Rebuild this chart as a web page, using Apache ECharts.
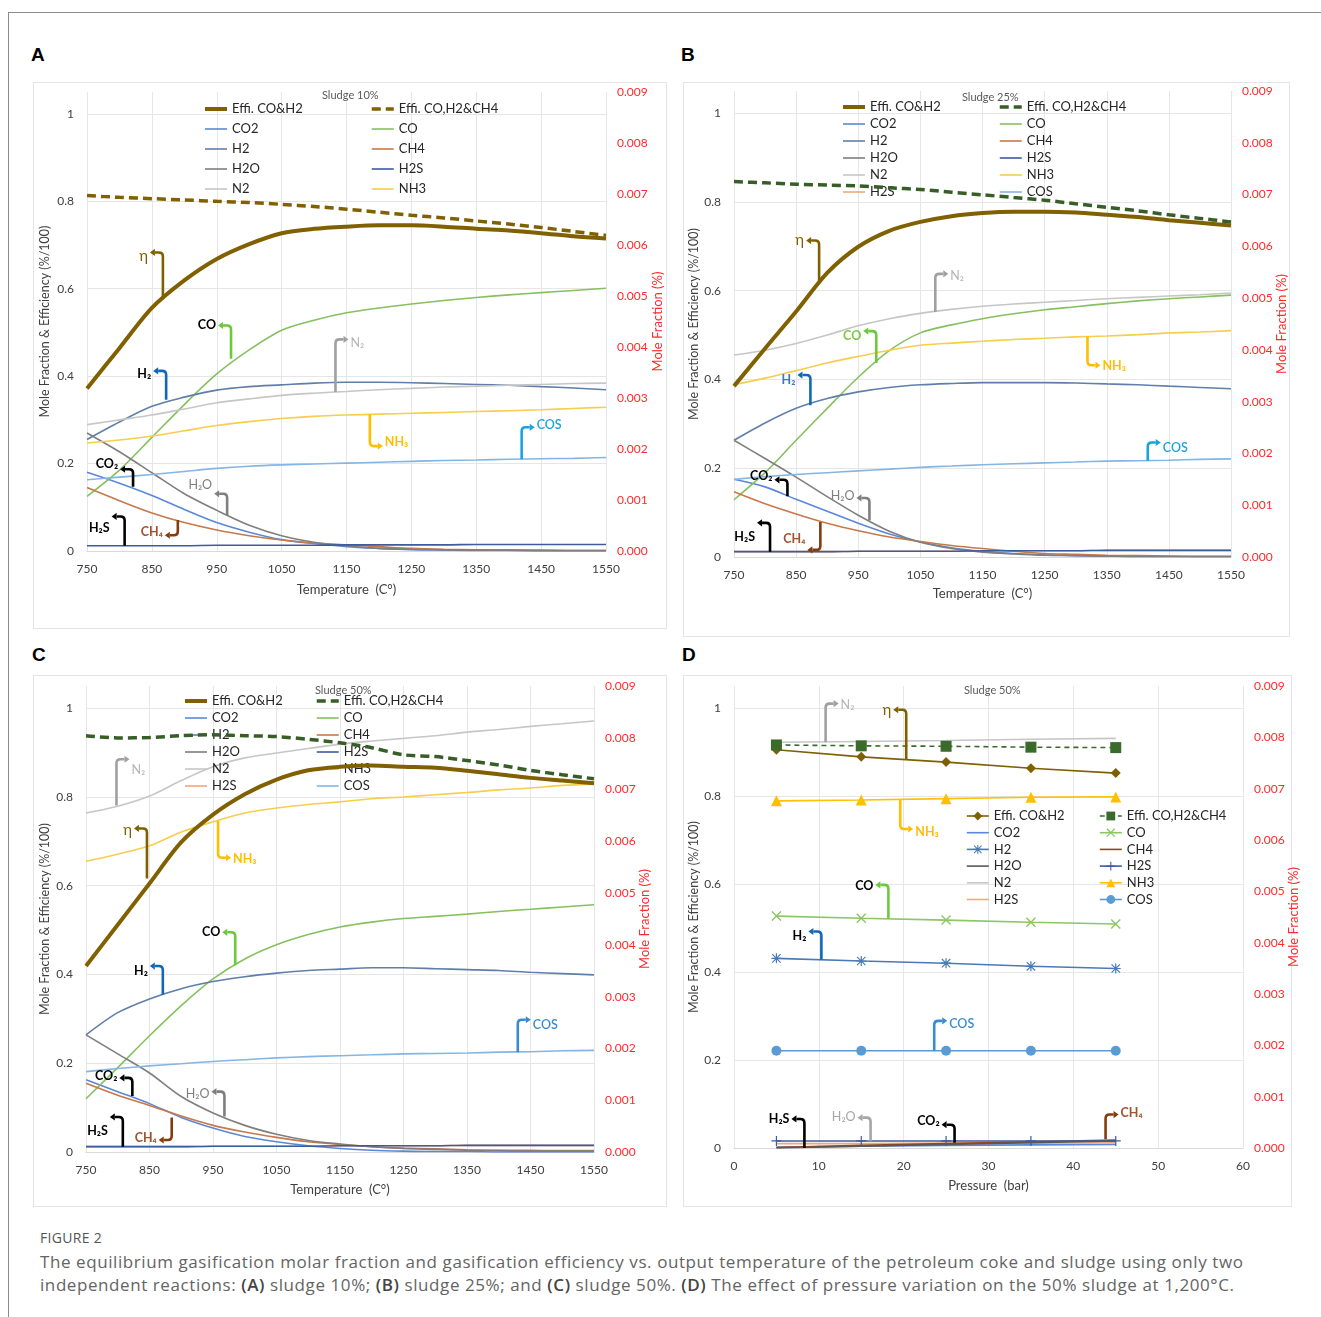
<!DOCTYPE html>
<html><head><meta charset="utf-8">
<script src="https://cdn.jsdelivr.net/npm/echarts/dist/echarts.min.js"></script>
<style>
body{margin:0;background:#fff;width:1321px;height:1317px;position:relative;overflow:hidden;font-family:Lato,'Noto Sans',sans-serif;}
.frame{position:absolute;left:8px;top:12px;width:1330px;height:1320px;border-top:1.5px solid #8c8c8c;border-left:1.5px solid #8c8c8c;}
.box{position:absolute;border:1px solid #e4e4e4;}
.chart{position:absolute;}
.lbl{position:absolute;font:bold 19px 'Liberation Sans',Arial,sans-serif;color:#000;line-height:20px;}
.fig{position:absolute;left:40px;top:1229px;font:14px 'Open Sans',sans-serif;letter-spacing:0.3px;color:#555;line-height:18px;}
.cap{position:absolute;left:40px;top:1250px;font:17px/23px 'Open Sans',sans-serif;letter-spacing:0.58px;color:#646464;white-space:nowrap;}
.cap b{color:#444;font-weight:600;}
</style>
</head><body>
<div class="frame"></div>
<div class="box" style="left:33px;top:82px;width:632px;height:545px"></div>
<div class="box" style="left:683px;top:82px;width:605px;height:553px"></div>
<div class="box" style="left:33px;top:675px;width:632px;height:530px"></div>
<div class="box" style="left:683px;top:675px;width:607px;height:530px"></div>
<div class="lbl" style="left:31px;top:45px">A</div>
<div class="lbl" style="left:681px;top:45px">B</div>
<div class="lbl" style="left:32px;top:645px">C</div>
<div class="lbl" style="left:682px;top:645px">D</div>
<div id="cA" class="chart" style="left:33px;top:82px;width:650px;height:560px"></div>
<div id="cB" class="chart" style="left:683px;top:82px;width:630px;height:560px"></div>
<div id="cC" class="chart" style="left:33px;top:675px;width:650px;height:540px"></div>
<div id="cD" class="chart" style="left:683px;top:675px;width:630px;height:540px"></div>
<div class="fig">FIGURE 2</div>
<div class="cap">The equilibrium gasification molar fraction and gasification efficiency vs. output temperature of the petroleum coke and sludge using only two<br>independent reactions: <b>(A)</b> sludge 10%; <b>(B)</b> sludge 25%; and <b>(C)</b> sludge 50%. <b>(D)</b> The effect of pressure variation on the 50% sludge at 1,200°C.</div>
<script>
// ---------------- DATA ----------------
const temps = [750,800,850,900,950,1000,1050,1100,1150,1200,1250,1300,1350,1400,1450,1500,1550];
const pressures = [5,15,25,35,45];

// Panel A: sludge 10%
const effiA  = [0.372,0.464,0.556,0.619,0.668,0.702,0.727,0.737,0.742,0.745,0.745,0.742,0.737,0.733,0.727,0.720,0.715];
const effi2A = [0.813,0.809,0.806,0.803,0.800,0.797,0.793,0.788,0.782,0.775,0.768,0.762,0.755,0.748,0.740,0.731,0.722];
const co2A   = [0.180,0.155,0.127,0.095,0.065,0.043,0.026,0.017,0.010,0.006,0.003,0.002,0.001,0.001,0.000,0.000,0.000];
const coA    = [0.125,0.185,0.260,0.335,0.405,0.460,0.505,0.528,0.545,0.556,0.565,0.573,0.580,0.586,0.591,0.596,0.601];
const h2A    = [0.255,0.295,0.331,0.352,0.368,0.376,0.380,0.384,0.386,0.386,0.385,0.383,0.381,0.379,0.376,0.373,0.369];
const ch4A   = [0.145,0.115,0.087,0.065,0.048,0.035,0.025,0.018,0.014,0.010,0.006,0.004,0.003,0.002,0.002,0.001,0.001];
const h2oA   = [0.270,0.227,0.179,0.131,0.093,0.059,0.035,0.020,0.012,0.006,0.004,0.003,0.002,0.002,0.001,0.001,0.001];
const h2sA   = [0.012,0.012,0.012,0.012,0.013,0.013,0.013,0.013,0.014,0.014,0.014,0.014,0.015,0.015,0.015,0.015,0.015];
const n2A    = [0.289,0.300,0.311,0.325,0.339,0.348,0.356,0.361,0.365,0.369,0.372,0.375,0.377,0.379,0.381,0.383,0.384];
const nh3A   = [0.247,0.254,0.263,0.275,0.287,0.296,0.303,0.308,0.311,0.313,0.315,0.317,0.319,0.321,0.323,0.326,0.329];
const cosA   = [0.163,0.169,0.175,0.182,0.189,0.194,0.197,0.199,0.201,0.203,0.205,0.207,0.208,0.210,0.211,0.212,0.214];

// Panel B: sludge 25%
const effiB  = [0.385,0.470,0.553,0.640,0.699,0.735,0.755,0.768,0.775,0.778,0.778,0.776,0.771,0.766,0.759,0.753,0.747];
const effi2B = [0.846,0.843,0.840,0.838,0.836,0.832,0.828,0.822,0.816,0.810,0.804,0.796,0.788,0.780,0.771,0.763,0.755];
const co2B   = [0.175,0.158,0.130,0.103,0.076,0.052,0.034,0.021,0.013,0.008,0.005,0.003,0.002,0.001,0.001,0.001,0.001];
const coB    = [0.129,0.190,0.263,0.335,0.405,0.465,0.505,0.523,0.537,0.548,0.557,0.564,0.571,0.577,0.582,0.586,0.590];
const h2B    = [0.263,0.302,0.335,0.357,0.372,0.382,0.388,0.391,0.393,0.393,0.393,0.392,0.390,0.388,0.385,0.382,0.379];
const ch4B   = [0.147,0.120,0.097,0.076,0.059,0.045,0.035,0.026,0.019,0.013,0.008,0.006,0.004,0.003,0.002,0.001,0.001];
const h2oB   = [0.263,0.222,0.180,0.136,0.094,0.058,0.033,0.019,0.011,0.007,0.004,0.003,0.002,0.001,0.001,0.001,0.001];
const h2sB   = [0.012,0.012,0.012,0.012,0.013,0.013,0.013,0.013,0.014,0.014,0.014,0.014,0.015,0.015,0.015,0.015,0.015];
const n2B    = [0.455,0.466,0.481,0.500,0.521,0.537,0.549,0.558,0.565,0.570,0.574,0.578,0.582,0.585,0.588,0.591,0.595];
const h2s2B  = [0.012,0.012,0.012,0.012,0.013,0.013,0.013,0.013,0.014,0.014,0.014,0.014,0.015,0.015,0.015,0.015,0.015];
const nh3B   = [0.388,0.403,0.420,0.437,0.452,0.466,0.477,0.482,0.486,0.490,0.493,0.496,0.498,0.501,0.505,0.507,0.510];
const cosB   = [0.175,0.181,0.186,0.190,0.194,0.198,0.202,0.205,0.208,0.210,0.212,0.214,0.216,0.217,0.218,0.220,0.221];

// Panel C: sludge 50%
const effiC  = [0.419,0.512,0.605,0.698,0.760,0.806,0.839,0.860,0.868,0.871,0.868,0.866,0.859,0.851,0.843,0.837,0.831];
const effi2C = [0.938,0.933,0.934,0.938,0.940,0.938,0.936,0.930,0.922,0.911,0.895,0.891,0.882,0.872,0.860,0.850,0.841];
const co2C   = [0.163,0.136,0.109,0.078,0.054,0.035,0.023,0.014,0.008,0.004,0.002,0.001,0.001,0.000,0.000,0.000,0.000];
const coC    = [0.120,0.190,0.262,0.330,0.390,0.435,0.467,0.490,0.507,0.518,0.526,0.531,0.536,0.542,0.547,0.552,0.557];
const h2C    = [0.264,0.314,0.345,0.368,0.384,0.395,0.403,0.409,0.412,0.415,0.415,0.413,0.411,0.409,0.405,0.402,0.399];
const ch4C   = [0.155,0.128,0.105,0.081,0.060,0.045,0.033,0.023,0.017,0.012,0.009,0.007,0.005,0.004,0.004,0.003,0.003];
const h2oC   = [0.264,0.221,0.178,0.125,0.088,0.060,0.040,0.026,0.018,0.012,0.008,0.006,0.004,0.003,0.002,0.002,0.002];
const h2sC   = [0.012,0.012,0.012,0.012,0.013,0.013,0.013,0.013,0.014,0.014,0.014,0.014,0.015,0.015,0.015,0.015,0.015];
const n2C    = [0.764,0.779,0.802,0.837,0.868,0.888,0.899,0.909,0.919,0.926,0.932,0.938,0.946,0.952,0.959,0.965,0.971];
const h2s2C  = [0.012,0.012,0.012,0.012,0.013,0.013,0.013,0.013,0.014,0.014,0.014,0.014,0.015,0.015,0.015,0.015,0.015];
const nh3C   = [0.655,0.671,0.690,0.721,0.744,0.764,0.775,0.783,0.789,0.796,0.800,0.805,0.810,0.816,0.820,0.826,0.829];
const cosC   = [0.181,0.188,0.194,0.199,0.204,0.208,0.212,0.215,0.217,0.219,0.221,0.222,0.223,0.225,0.226,0.228,0.229];

// Panel D: sludge 50%, pressure
const effiD  = [0.905,0.889,0.877,0.863,0.852];
const effi2D = [0.916,0.914,0.913,0.911,0.910];
const co2D   = [0.002,0.004,0.006,0.007,0.008];
const coD    = [0.527,0.522,0.518,0.513,0.509];
const h2D    = [0.431,0.425,0.420,0.413,0.408];
const ch4D   = [0.001,0.006,0.010,0.014,0.018];
const h2oD   = [0.000,0.004,0.008,0.012,0.016];
const h2sD   = [0.016,0.016,0.016,0.016,0.016];
const n2D    = [0.922,0.924,0.926,0.929,0.931];
const h2s2D  = [0.010,0.010,0.011,0.011,0.012];
const nh3D   = [0.789,0.791,0.794,0.797,0.798];
const cosD   = [0.221,0.221,0.221,0.221,0.221];

// Annotation call-outs: [x, y on curve, y of hook, direction (-1 left / 1 right), label]
const annotA = [
  [867,0.576,0.683,-1,'η'],[972,0.440,0.516,-1,'CO'],[872,0.346,0.412,-1,'H₂'],
  [1133,0.364,0.484,1,'N₂'],[1186,0.313,0.240,1,'NH₃'],[1420,0.210,0.283,1,'COS'],
  [821,0.147,0.187,-1,'CO₂'],[966,0.081,0.131,-1,'H₂O'],[808,0.012,0.079,-1,'H₂S'],
  [890,0.071,0.036,-1,'CH₄']
];
const annotB = [
  [887,0.622,0.713,-1,'η'],[1074,0.552,0.638,1,'N₂'],[979,0.437,0.509,-1,'CO'],
  [873,0.342,0.410,-1,'H₂'],[1319,0.497,0.432,1,'NH₃'],[1416,0.217,0.258,1,'COS'],
  [836,0.137,0.174,-1,'CO₂'],[968,0.082,0.133,-1,'H₂O'],[808,0.012,0.077,-1,'H₂S'],
  [889,0.079,0.016,-1,'CH₄']
];
const annotC = [
  [798,0.781,0.885,1,'N₂'],[846,0.616,0.729,-1,'η'],[958,0.746,0.663,1,'NH₃'],
  [985,0.421,0.495,-1,'CO'],[871,0.355,0.419,-1,'H₂'],[1430,0.225,0.298,1,'COS'],
  [823,0.126,0.167,-1,'CO₂'],[968,0.080,0.136,-1,'H₂O'],[808,0.012,0.079,-1,'H₂S'],
  [885,0.078,0.027,-1,'CH₄']
];
const annotD = [
  [10.8,0.922,1.010,1,'N₂'],[20.3,0.884,0.996,-1,'η'],[19.6,0.792,0.725,1,'NH₃'],
  [18.2,0.521,0.598,-1,'CO'],[10.3,0.428,0.492,-1,'H₂'],[23.6,0.221,0.289,1,'COS'],
  [8.3,0.000,0.066,-1,'H₂S'],[16.1,0.016,0.069,-1,'H₂O'],[26.0,0.012,0.053,-1,'CO₂'],
  [43.8,0.020,0.076,1,'CH₄']
];

// ---------------- STYLES ----------------
const FONT = 'Lato, "Noto Sans", "DejaVu Sans", sans-serif';
const TXT = '#404040';
const RED = '#ff2b2b';
const symX = 'path://M1,0L5,4L9,0L10,1L6,5L10,9L9,10L5,6L1,10L0,9L4,5L0,1Z';
const symAst = 'path://M4.4,0h1.2v10h-1.2z M0,4.4h10v1.2h-10z M1.2,0.4L9.6,8.8L8.8,9.6L0.4,1.2z M8.8,0.4L9.6,1.2L1.2,9.6L0.4,8.8z';
const symPlus = 'path://M4.4,0h1.2v10h-1.2z M0,4.4h10v1.2h-10z';

const baseAnnotStyle = {
  'η':   {stem:'#7f6000', text:'#7f6000', w:'normal', fs:15},
  'CO':  {stem:'#6cc83c', text:'#000', w:'bold'},
  'H₂':  {stem:'#1168b8', text:'#000', w:'bold'},
  'N₂':  {stem:'#a0a0a0', text:'#b4b4b4', w:'normal'},
  'NH₃': {stem:'#ffbf00', text:'#ffbf00', w:'bold'},
  'COS': {stem:'#1aa3e0', text:'#1aa3e0', w:'600'},
  'CO₂': {stem:'#000', text:'#000', w:'bold'},
  'H₂O': {stem:'#7f7f7f', text:'#7f7f7f', w:'normal'},
  'H₂S': {stem:'#000', text:'#000', w:'bold'},
  'CH₄': {stem:'#843c0c', text:'#a0522d', w:'bold'}
};
const overB = {'CO':{text:'#7ac943'}, 'H₂':{text:'#3a78c8'}};
const overC = {'COS':{stem:'#3a8ad0', text:'#3a8ad0'}};
const overD = {'COS':{stem:'#3a8ad0', text:'#3a8ad0'}, 'H₂O':{stem:'#a6a6a6', text:'#a6a6a6'}};
const nudgeA = {'η':4,'H₂':3,'N₂':4,'NH₃':-4,'COS':-2,'CO₂':-5,'H₂O':-9,'H₂S':12,'CH₄':-3};
const nudgeB = {'N₂':2,'CO':5,'H₂':5,'NH₃':1,'COS':5,'CO₂':-4,'H₂O':-2,'H₂S':14,'CH₄':-11};
const nudgeC = {'N₂':11,'η':2,'NH₃':1,'H₂':5,'COS':5,'CO₂':-2,'H₂O':2,'H₂S':14,'CH₄':-2};
const nudgeD = {'N₂':1,'NH₃':3,'CO':1,'H₂':4,'COS':3,'H₂O':-1,'CO₂':-4,'CH₄':-2};

function lineSeries(name, xs, ys, st, xOff) {
  return {
    type:'line', name: name, smooth: st.smooth === false ? false : 0.3,
    data: xs.map((x,i) => [x - xOff, ys[i]]),
    showSymbol: !!st.symbol, symbol: st.symbol || 'none', symbolSize: st.size || 8,
    lineStyle: {color: st.color, width: st.width || 1.6, type: st.type || 'solid'},
    itemStyle: {color: st.mcolor || st.color},
    z: st.z || 2, silent: true, animation: false
  };
}

function annotSeries(list, xOff, over, nudge) {
  return {
    type:'custom', name:'annot', coordinateSystem:'cartesian2d', silent:true, z:20, clip:false,
    animation:false,
    encode:{x:0, y:[1,2]},
    data: list.map(a => [a[0] - xOff, a[1], a[2]]),
    renderItem: function(params, api) {
      const a = list[params.dataIndex];
      const key = a[4];
      const st = Object.assign({}, baseAnnotStyle[key], (over||{})[key] || {});
      const p1 = api.coord([api.value(0), api.value(1)]);
      const p2 = api.coord([api.value(0), api.value(2)]);
      const d = a[3];
      const sg = p2[1] < p1[1] ? 1 : -1;
      const r = 4, L = 8, ah = 5, aw = 3.6;
      const x = p1[0], y = p2[1];
      const hx = x + d * L;
      const pd = 'M' + x + ' ' + p1[1] + ' L' + x + ' ' + (y + sg * r) + ' Q' + x + ' ' + y + ' ' + (x + d * r) + ' ' + y + ' L' + hx + ' ' + y;
      return {type:'group', children:[
        {type:'path', shape:{pathData: pd}, style:{stroke: st.stem, fill: null, lineWidth: 2.6}},
        {type:'polygon', shape:{points:[[hx + d*ah, y],[hx, y - aw],[hx, y + aw]]}, style:{fill: st.stem}},
        {type:'text', style:{text: key, x: hx + d*(ah + 2), y: y + ((nudge||{})[key] || 0),
          align: d < 0 ? 'right' : 'left', verticalAlign:'middle', fill: st.text,
          fontSize: st.fs || 12.5, fontWeight: st.w, fontFamily: FONT}}
      ]};
    }
  };
}

function makeOption(cfg) {
  const isT = cfg.kind === 'T';
  const xOff = isT ? temps[0] : 0;
  const xs = isT ? temps : pressures;
  const series = cfg.series.map(s => lineSeries(s.name, xs, s.data, s.style, xOff));
  series.push(annotSeries(cfg.annot, xOff, cfg.over, cfg.nudge));
  const styleOf = {};
  cfg.series.forEach(s => { styleOf[s.name] = s.style; });
  const legItems = names => names.map(n => {
    const s = styleOf[n];
    const item = {name: n, lineStyle: {width: s.width || 1.6}};
    if (!s.symbol) item.itemStyle = {color: 'rgba(0,0,0,0)', borderWidth: 0, opacity: 0};
    return item;
  });
  const legendBase = {
    orient:'vertical', itemWidth:22, itemHeight: cfg.legItemH || 14, itemGap: cfg.legGap,
    selectedMode:false, textStyle:{fontSize:13, color:'#262626', fontFamily:FONT, lineHeight:14}
  };
  return {
    animation:false,
    textStyle:{fontFamily:FONT},
    title:{text: cfg.title, left: cfg.titleLeft, top: cfg.titleTop,
      textStyle:{fontSize:11, color:'#595959', fontWeight:'normal', fontFamily:FONT}},
    legend:[
      Object.assign({}, legendBase, {data: legItems(cfg.leg1), left: cfg.leg1Left, top: cfg.legTop}),
      Object.assign({}, legendBase, {data: legItems(cfg.leg2), left: cfg.leg2Left, top: cfg.legTop})
    ],
    grid:{left: cfg.grid[0], top: cfg.grid[1], width: cfg.grid[2], height: cfg.grid[3],
      containLabel:false, outerBoundsMode:'none'},
    xAxis:{type:'value', min:0, max: isT ? (temps[temps.length-1] - xOff) : 60, interval: isT ? 100 : 10,
      name: isT ? 'Temperature  (C°)' : 'Pressure  (bar)', nameLocation:'middle', nameGap: cfg.xNameGap,
      nameMoveOverlap:false,
      nameTextStyle:{fontSize:13, color:TXT},
      axisLine:{show:true, lineStyle:{color:'#d9d9d9'}}, axisTick:{show:false},
      axisLabel:{formatter: v => String(v + xOff), color:TXT, fontSize:12, margin:12},
      splitLine:{show:true, lineStyle:{color:'#e6e6e6'}}},
    yAxis:[
      {type:'value', min:0, max:1.05, interval:0.2,
        name:'Mole Fraction & Efficiency (%/100)', nameLocation:'middle', nameRotate:90, nameGap: cfg.yNameGap,
        nameMoveOverlap:false,
        nameTextStyle:{fontSize:12.5, color:TXT},
        axisLine:{show:false}, axisTick:{show:false},
        axisLabel:{color:TXT, fontSize:12, margin:13, showMaxLabel:false},
        splitLine:{show:true, showMaxLine:false, lineStyle:{color:'#e6e6e6'}}},
      {type:'value', min:0, max:0.009, interval:0.001, position:'right',
        name:'Mole Fraction (%)', nameLocation:'middle', nameRotate:90, nameGap: cfg.rNameGap,
        nameMoveOverlap:false,
        nameTextStyle:{fontSize:13, color:RED},
        axisLine:{show:false}, axisTick:{show:false}, splitLine:{show:false},
        axisLabel:{color:RED, fontSize:12, margin:11, formatter: v => v.toFixed(3)}}
    ],
    series: series
  };
}

const H2S2 = 'H2S\u200b';
const st = {
  effi: {color:'#806000', width:4, z:5},
  effi2A: {color:'#806000', width:3.5, type:[9,5], z:5},
  effi2G: {color:'#375e27', width:3.5, type:[9,5], z:5},
  co2: {color:'#5a88d8'}, co: {color:'#86c05f'}, h2: {color:'#5f7faa'},
  ch4: {color:'#c8784a'}, h2o: {color:'#7f7f7f'}, h2s: {color:'#3f5ba0', z:3},
  n2: {color:'#c6c6c6'}, nh3: {color:'#f7cd4d'}, cos: {color:'#84b5e4'}, h2s2: {color:'#f0a87a', z:1}
};

function tSeries(effi, effi2, co2, co, h2, ch4, h2o, h2s, n2, nh3, cos, h2s2, effi2Style) {
  const arr = [
    {name:'Effi. CO&H2', data:effi, style:st.effi},
    {name:'Effi. CO,H2&CH4', data:effi2, style:effi2Style},
    {name:'CO2', data:co2, style:st.co2},
    {name:'CO', data:co, style:st.co},
    {name:'H2', data:h2, style:st.h2},
    {name:'CH4', data:ch4, style:st.ch4},
    {name:'H2O', data:h2o, style:st.h2o},
    {name:'H2S', data:h2s, style:st.h2s},
    {name:'N2', data:n2, style:st.n2},
    {name:'NH3', data:nh3, style:st.nh3},
    {name:'COS', data:cos, style:st.cos}
  ];
  if (h2s2) arr.push({name:H2S2, data:h2s2, style:st.h2s2});
  return arr;
}

const leg1Full = ['Effi. CO&H2','CO2','H2','H2O','N2',H2S2];
const leg2Full = ['Effi. CO,H2&CH4','CO','CH4','H2S','NH3','COS'];

const optA = makeOption({kind:'T', title:'Sludge 10%', titleLeft:284, titleTop:3,
  series: tSeries(effiA, effi2A, co2A, coA, h2A, ch4A, h2oA, h2sA, n2A, nh3A, cosA, null, st.effi2A),
  leg1:['Effi. CO&H2','CO2','H2','H2O','N2'], leg2:['Effi. CO,H2&CH4','CO','CH4','H2S','NH3'],
  leg1Left:165, leg2Left:332, legTop:15, legGap:6,
  grid:[54,10,519,459], xNameGap:32, yNameGap:36, rNameGap:45,
  annot: annotA, over:null, nudge:nudgeA});

const optB = makeOption({kind:'T', title:'Sludge 25%', titleLeft:274, titleTop:5,
  series: tSeries(effiB, effi2B, co2B, coB, h2B, ch4B, h2oB, h2sB, n2B, nh3B, cosB, h2s2B, st.effi2G),
  leg1:leg1Full, leg2:leg2Full, leg1Left:153, leg2Left:310, legTop:13, legGap:3,
  grid:[51,9,497,466], xNameGap:30, yNameGap:34, rNameGap:44,
  annot: annotB, over:overB, nudge:nudgeB});

const optC = makeOption({kind:'T', title:'Sludge 50%', titleLeft:277, titleTop:5,
  series: tSeries(effiC, effi2C, co2C, coC, h2C, ch4C, h2oC, h2sC, n2C, nh3C, cosC, h2s2C, st.effi2G),
  leg1:leg1Full, leg2:leg2Full, leg1Left:145, leg2Left:277, legTop:14, legGap:3,
  grid:[53,11,508,466], xNameGap:31, yNameGap:35, rNameGap:44,
  annot: annotC, over:overC, nudge:nudgeC});

const dStyles = {
  effi: {color:'#7f6000', width:1.6, symbol:'diamond', size:10, smooth:false, z:5},
  effi2: {color:'#3b6b2a', width:1.6, type:[5,4], symbol:'rect', size:11, smooth:false, z:5},
  co2: {color:'#5a88d8', smooth:false}, co: {color:'#8cc665', symbol:symX, size:10, smooth:false},
  h2: {color:'#4a79b8', symbol:symAst, size:10, smooth:false}, ch4: {color:'#8b4a1e', smooth:false},
  h2o: {color:'#595959', smooth:false}, h2s: {color:'#3f5ba0', symbol:symPlus, size:10, smooth:false},
  n2: {color:'#c6c6c6', smooth:false}, h2s2: {color:'#f0a87a', smooth:false, z:1},
  nh3: {color:'#ffc000', symbol:'triangle', size:11, smooth:false},
  cos: {color:'#5b9bd5', symbol:'circle', size:10, smooth:false}
};
const optD = makeOption({kind:'P', title:'Sludge 50%', titleLeft:276, titleTop:5,
  series: [
    {name:'Effi. CO&H2', data:effiD, style:dStyles.effi},
    {name:'Effi. CO,H2&CH4', data:effi2D, style:dStyles.effi2},
    {name:'CO2', data:co2D, style:dStyles.co2},
    {name:'CO', data:coD, style:dStyles.co},
    {name:'H2', data:h2D, style:dStyles.h2},
    {name:'CH4', data:ch4D, style:dStyles.ch4},
    {name:'H2O', data:h2oD, style:dStyles.h2o},
    {name:'H2S', data:h2sD, style:dStyles.h2s},
    {name:'N2', data:n2D, style:dStyles.n2},
    {name:H2S2, data:h2s2D, style:dStyles.h2s2},
    {name:'NH3', data:nh3D, style:dStyles.nh3},
    {name:'COS', data:cosD, style:dStyles.cos}
  ],
  leg1:leg1Full, leg2:leg2Full, leg1Left:278, leg2Left:411, legTop:129, legGap:2.7, legItemH:11,
  grid:[51,11,509,462], xNameGap:31, yNameGap:34, rNameGap:44,
  annot: annotD, over:overD, nudge:nudgeD});

[['cA',optA],['cB',optB],['cC',optC],['cD',optD]].forEach(([id,opt]) => {
  const c = echarts.init(document.getElementById(id), null, {renderer:'canvas'});
  c.setOption(opt);
});
</script>
</body></html>
